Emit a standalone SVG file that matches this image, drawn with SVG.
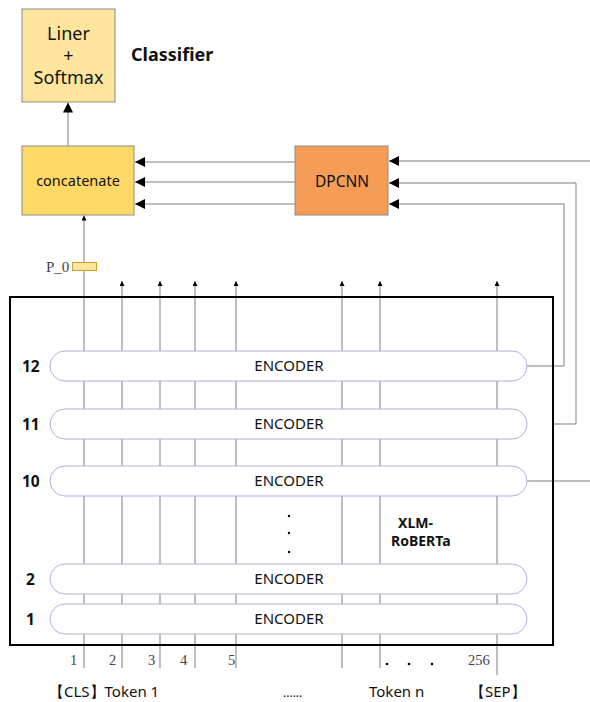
<svg xmlns="http://www.w3.org/2000/svg" width="590" height="702" viewBox="0 0 590 702">
  <style>
    .box { stroke: #8c8c8c; stroke-width: 1; }
    .lbl { font-family: "Noto Sans", "Open Sans", sans-serif; fill: #111; }
    .bold { font-family: "Noto Sans", "Open Sans", sans-serif; font-weight: bold; fill: #111; }
    .num { font-family: "Liberation Serif", serif; fill: #444; font-size: 14.5px; }
    .wire { stroke: #7f7f7f; stroke-width: 1; fill: none; }
    .enc { fill: #fff; stroke: #b7aedb; stroke-width: 1; }
  </style>
  <defs>
    <marker id="big" viewBox="0 0 10 10" refX="10" refY="5" markerWidth="10" markerHeight="10" markerUnits="userSpaceOnUse" orient="auto">
      <path d="M0,0 L10,5 L0,10 z" fill="#000"/>
    </marker>
    <marker id="small" viewBox="0 0 10 10" refX="10" refY="5" markerWidth="6" markerHeight="5" markerUnits="userSpaceOnUse" orient="auto">
      <path d="M0,0 L10,5 L0,10 z" fill="#000"/>
    </marker>
  </defs>

  <rect width="590" height="702" fill="#fff"/>

  <!-- token columns (drawn first so encoders cover them) -->
  <g id="connectors">
    <line class="wire" x1="122" y1="668" x2="122" y2="281" marker-end="url(#small)"/>
    <line class="wire" x1="160" y1="668" x2="160" y2="281" marker-end="url(#small)"/>
    <line class="wire" x1="195" y1="668" x2="195" y2="281" marker-end="url(#small)"/>
    <line class="wire" x1="236" y1="668" x2="236" y2="281" marker-end="url(#small)"/>
    <line class="wire" x1="342" y1="668" x2="342" y2="281" marker-end="url(#small)"/>
    <line class="wire" x1="380" y1="668" x2="380" y2="281" marker-end="url(#small)"/>
    <line class="wire" x1="497" y1="675" x2="497" y2="281" marker-end="url(#small)"/>
    <!-- CLS column into concatenate -->
    <line class="wire" x1="84" y1="668" x2="84" y2="215.5" marker-end="url(#small)"/>
    <!-- concatenate -> classifier -->
    <line class="wire" x1="68" y1="146" x2="68" y2="102.5" marker-end="url(#big)"/>
    <!-- DPCNN -> concatenate -->
    <line class="wire" x1="295" y1="162" x2="135" y2="162" marker-end="url(#big)"/>
    <line class="wire" x1="295" y1="182" x2="135" y2="182" marker-end="url(#big)"/>
    <line class="wire" x1="295" y1="204" x2="135" y2="204" marker-end="url(#big)"/>
    <!-- encoder layers -> DPCNN -->
    <line class="wire" x1="590" y1="161" x2="389" y2="161" marker-end="url(#big)"/>
    <polyline class="wire" points="553,424 576,424 576,183 389,183" marker-end="url(#big)"/>
    <polyline class="wire" points="527,366 564,366 564,204 389,204" marker-end="url(#big)"/>
    <line class="wire" x1="527" y1="481" x2="590" y2="481"/>
  </g>

  <!-- XLM-RoBERTa frame -->
  <g id="xlmr">
    <rect x="10" y="297" width="543" height="348" fill="none" stroke="#000" stroke-width="2"/>
    <text class="bold" x="398" y="528" font-size="14">XLM-</text>
    <text class="bold" x="391" y="546" font-size="14">RoBERTa</text>
    <circle cx="289" cy="516" r="1.2" fill="#000"/>
    <circle cx="289" cy="533" r="1.2" fill="#000"/>
    <circle cx="289" cy="552" r="1.2" fill="#000"/>
  </g>

  <g id="enc12">
    <rect class="enc" x="50" y="351" width="477" height="30" rx="15"/>
    <text class="lbl" x="289" y="371" font-size="15" text-anchor="middle">ENCODER</text>
    <text class="bold" x="22" y="371.5" font-size="15.5">12</text>
  </g>
  <g id="enc11">
    <rect class="enc" x="50" y="409" width="477" height="30" rx="15"/>
    <text class="lbl" x="289" y="429" font-size="15" text-anchor="middle">ENCODER</text>
    <text class="bold" x="22" y="429.5" font-size="15.5">11</text>
  </g>
  <g id="enc10">
    <rect class="enc" x="50" y="466" width="477" height="30" rx="15"/>
    <text class="lbl" x="289" y="486" font-size="15" text-anchor="middle">ENCODER</text>
    <text class="bold" x="22" y="486.5" font-size="15.5">10</text>
  </g>
  <g id="enc2">
    <rect class="enc" x="50" y="564" width="477" height="30" rx="15"/>
    <text class="lbl" x="289" y="584" font-size="15" text-anchor="middle">ENCODER</text>
    <text class="bold" x="26" y="584.5" font-size="15.5">2</text>
  </g>
  <g id="enc1">
    <rect class="enc" x="50" y="604" width="477" height="30" rx="15"/>
    <text class="lbl" x="289" y="624" font-size="15" text-anchor="middle">ENCODER</text>
    <text class="bold" x="26" y="624.5" font-size="15.5">1</text>
  </g>

  <g id="classifier">
    <rect class="box" x="22" y="9" width="93" height="93" fill="#fee59d"/>
    <text class="lbl" x="68.5" y="40" font-size="18" text-anchor="middle">Liner</text>
    <text class="lbl" x="68.5" y="62" font-size="18" text-anchor="middle">+</text>
    <text class="lbl" x="68.5" y="84" font-size="18" text-anchor="middle">Softmax</text>
    <text class="bold" x="131" y="61" font-size="18">Classifier</text>
  </g>

  <g id="concatenate">
    <rect class="box" x="22" y="146" width="112" height="69" fill="#fed966"/>
    <text class="lbl" x="78" y="186" font-size="14.5" text-anchor="middle">concatenate</text>
  </g>

  <g id="dpcnn">
    <rect class="box" x="295" y="146" width="93" height="69" fill="#f59d56"/>
    <text class="lbl" x="342" y="186.5" font-size="15.5" text-anchor="middle">DPCNN</text>
  </g>

  <g id="p0">
    <rect x="72.5" y="262.5" width="24" height="8" fill="#fee59d" stroke="#c9a227" stroke-width="1"/>
    <text class="num" x="46" y="272" style="font-size:15px" fill="#222">P_0</text>
  </g>

  <g id="positions">
    <text class="num" x="70" y="665">1</text>
    <text class="num" x="109" y="665">2</text>
    <text class="num" x="148" y="665">3</text>
    <text class="num" x="180" y="665">4</text>
    <text class="num" x="228" y="665">5</text>
    <text class="num" x="468" y="665">256</text>
    <circle cx="387" cy="664" r="1.3" fill="#000"/>
    <circle cx="409" cy="664" r="1.3" fill="#000"/>
    <circle cx="432" cy="664" r="1.3" fill="#000"/>
  </g>

  <g id="tokens">
    <text class="lbl" x="49" y="697" font-size="15" font-family="Noto Sans, Noto Sans CJK SC, sans-serif">【CLS】Token 1</text>
    <text class="lbl" x="283" y="697" font-size="12">......</text>
    <text class="lbl" x="369" y="697" font-size="15">Token n</text>
    <text class="lbl" x="470" y="697" font-size="15" font-family="Noto Sans, Noto Sans CJK SC, sans-serif">【SEP】</text>
  </g>
</svg>
